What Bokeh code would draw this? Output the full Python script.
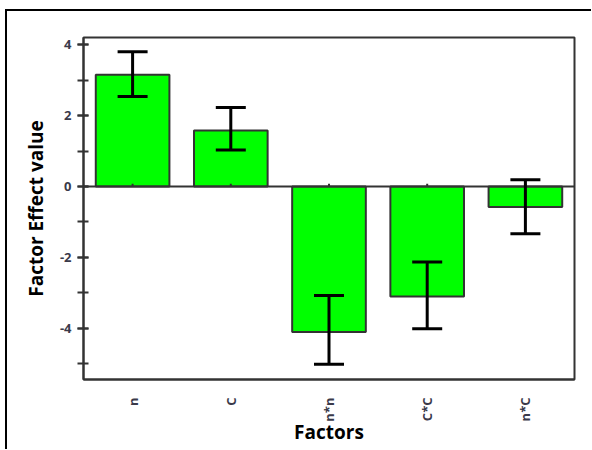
from bokeh.plotting import figure
from bokeh.models import (ColumnDataSource, Span, SingleIntervalTicker, Whisker, FactorRange,
                          Range1d, PrintfTickFormatter)
from bokeh.embed import file_html
from bokeh.resources import INLINE
import math

factors = ["n", "C", "n*n", "C*C", "n*C"]
effects = [3.15, 1.58, -4.10, -3.10, -0.58]
err_upper = [3.80, 2.23, -3.07, -2.13, 0.19]
err_lower = [2.54, 1.03, -5.01, -4.01, -1.33]
y_ticks = [-4, -2, 0, 2, 4]

src = ColumnDataSource(dict(x=factors, top=effects, upper=err_upper, lower=err_lower,
                            zero=[0] * len(factors), stub=[0.08] * len(factors)))

p = figure(width=586, height=440, x_range=FactorRange(*factors, range_padding=0),
           y_range=Range1d(-5.44, 4.2), output_backend="svg", toolbar_location=None,
           min_border_left=76, min_border_right=19, min_border_top=26, min_border_bottom=72)
p.styles = {"margin-left": "5px", "margin-top": "9px",
            "border-left": "2px solid black", "border-top": "2px solid black"}

p.vbar(x="x", top="top", bottom=0, width=0.75, source=src,
       fill_color="#00ff00", line_color="#333333", line_width=2)

p.add_layout(Span(location=0, dimension="width", line_color="#333333", line_width=2))
p.segment(x0="x", y0="zero", x1="x", y1="stub", source=src, line_color="#333333", line_width=2)

w = Whisker(base="x", upper="upper", lower="lower", source=src, dimension="height",
            line_color="black", line_width=3, level="overlay")
w.upper_head.size = 30
w.lower_head.size = 30
w.upper_head.line_width = 3
w.lower_head.line_width = 3
w.upper_head.line_color = "black"
w.lower_head.line_color = "black"
p.add_layout(w)

p.grid.visible = False
p.outline_line_color = "#333333"
p.outline_line_width = 2
p.background_fill_color = "white"
p.border_fill_color = "white"

p.yaxis.ticker = SingleIntervalTicker(interval=2, num_minor_ticks=2)
p.yaxis.formatter = PrintfTickFormatter(format="%d")
p.yaxis.axis_line_color = "#333333"
p.yaxis.axis_line_width = 2
p.yaxis.major_tick_in = 5
p.yaxis.major_tick_out = 6
p.yaxis.minor_tick_in = 5
p.yaxis.minor_tick_out = 6
p.yaxis.major_tick_line_width = 2
p.yaxis.minor_tick_line_width = 2
p.yaxis.major_tick_line_color = "#333333"
p.yaxis.minor_tick_line_color = "#333333"
p.yaxis.major_label_text_font = "Open Sans"
p.yaxis.major_label_text_font_style = "bold"
p.yaxis.major_label_text_font_size = "13px"
p.yaxis.major_label_text_color = "#3a3a4a"
p.yaxis.major_label_standoff = 6
p.yaxis.axis_label = "Factor Effect value"
p.yaxis.axis_label_text_font = "Open Sans"
p.yaxis.axis_label_text_font_style = "bold"
p.yaxis.axis_label_text_font_size = "19px"
p.yaxis.axis_label_text_color = "black"
p.yaxis.axis_label_standoff = 8

p.xaxis.axis_line_color = "#333333"
p.xaxis.axis_line_width = 2
p.xaxis.major_tick_line_color = None
p.xaxis.minor_tick_line_color = None
p.xaxis.major_label_orientation = math.pi / 2
p.xaxis.major_label_text_font = "Open Sans"
p.xaxis.major_label_text_font_style = "bold"
p.xaxis.major_label_text_font_size = "13px"
p.xaxis.major_label_text_color = "#3a3a4a"
p.xaxis.major_label_standoff = 12
p.xaxis.axis_label = "Factors"
p.xaxis.axis_label_text_font = "Open Sans"
p.xaxis.axis_label_text_font_style = "bold"
p.xaxis.axis_label_text_font_size = "19px"
p.xaxis.axis_label_text_color = "black"
p.xaxis.axis_label_standoff = -6

open("out.html", "w").write(file_html(p, INLINE))
